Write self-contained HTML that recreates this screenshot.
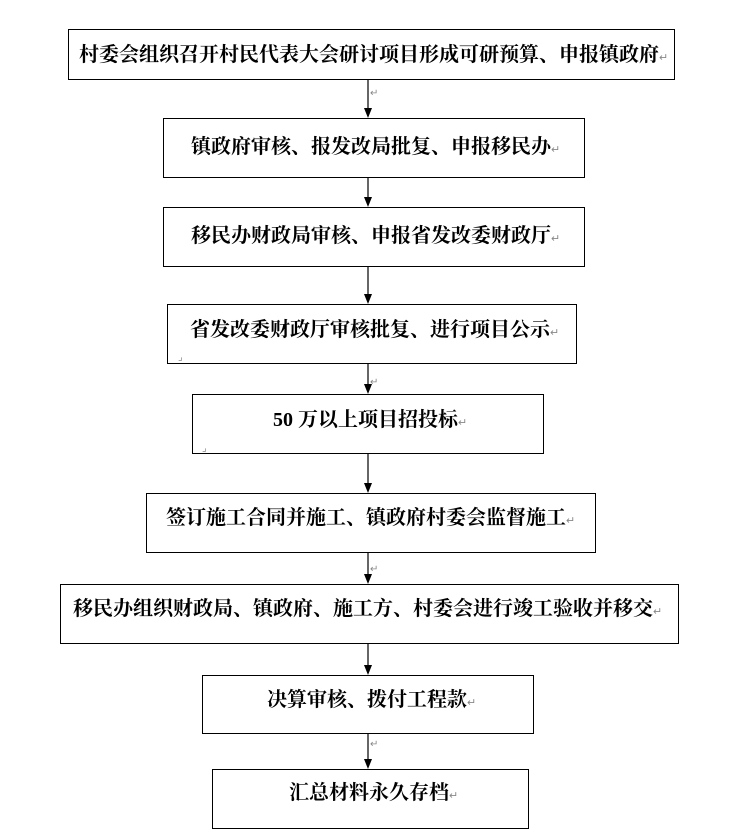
<!DOCTYPE html>
<html><head><meta charset="utf-8"><style>
body{margin:0;width:732px;height:833px;background:#fff;position:relative;overflow:hidden;font-family:"Liberation Serif","Noto Serif CJK SC","Noto Sans CJK SC",serif;}
.b{position:absolute;border:1.3px solid #000;box-sizing:border-box;}
.t{position:absolute;font-size:20px;font-weight:bold;color:#000;white-space:nowrap;line-height:24px;}
.r{font-size:11px;color:#888;font-weight:normal;}
</style></head><body>
<div class="b" style="left:68px;top:29px;width:607px;height:51px"></div>
<div class="b" style="left:163px;top:118px;width:422px;height:60px"></div>
<div class="b" style="left:163px;top:207px;width:422px;height:60px"></div>
<div class="b" style="left:167px;top:304px;width:410px;height:60px"></div>
<div class="b" style="left:192px;top:394px;width:352px;height:60px"></div>
<div class="b" style="left:146px;top:493px;width:450px;height:60px"></div>
<div class="b" style="left:60px;top:584px;width:619px;height:60px"></div>
<div class="b" style="left:202px;top:675px;width:332px;height:59px"></div>
<div class="b" style="left:212px;top:769px;width:317px;height:60px"></div>

<div class="t" style="left:79px;top:43px">村委会组织召开村民代表大会研讨项目形成可研预算、申报镇政府<span class="r">↵</span></div>
<div class="t" style="left:191px;top:135px">镇政府审核、报发改局批复、申报移民办<span class="r">↵</span></div>
<div class="t" style="left:191px;top:224px">移民办财政局审核、申报省发改委财政厅<span class="r">↵</span></div>
<div class="t" style="left:190px;top:318px">省发改委财政厅审核批复、进行项目公示<span class="r">↵</span></div>
<div class="t" style="left:273px;top:408px">50 万以上项目招投标<span class="r">↵</span></div>
<div class="t" style="left:166px;top:506px">签订施工合同并施工、镇政府村委会监督施工<span class="r">↵</span></div>
<div class="t" style="left:73px;top:597px">移民办组织财政局、镇政府、施工方、村委会进行竣工验收并移交<span class="r">↵</span></div>
<div class="t" style="left:267px;top:688px">决算审核、拨付工程款<span class="r">↵</span></div>
<div class="t" style="left:289px;top:781px">汇总材料永久存档<span class="r">↵</span></div>

<svg width="732" height="833" style="position:absolute;left:0;top:0" xmlns="http://www.w3.org/2000/svg">
<g stroke="#000" stroke-width="1.2" fill="#000">
<line x1="368" y1="80" x2="368" y2="110"/><polygon points="364,108 372,108 368,118" stroke="none"/>
<line x1="368" y1="178" x2="368" y2="199"/><polygon points="364,197 372,197 368,207" stroke="none"/>
<line x1="368" y1="267" x2="368" y2="296"/><polygon points="364,294 372,294 368,304" stroke="none"/>
<line x1="368" y1="364" x2="368" y2="386"/><polygon points="364,384 372,384 368,394" stroke="none"/>
<line x1="368" y1="454" x2="368" y2="485"/><polygon points="364,483 372,483 368,493" stroke="none"/>
<line x1="368" y1="553" x2="368" y2="576"/><polygon points="364,574 372,574 368,584" stroke="none"/>
<line x1="368" y1="644" x2="368" y2="667"/><polygon points="364,665 372,665 368,675" stroke="none"/>
<line x1="368" y1="734" x2="368" y2="761"/><polygon points="364,759 372,759 368,769" stroke="none"/>
</g>
<g fill="#888" font-size="10">
<text x="370" y="96">↵</text><text x="370" y="385">↵</text><text x="370" y="572">↵</text><text x="370" y="747">↵</text>
<text x="178" y="360">⌟</text><text x="202" y="451">⌟</text>
</g>
</svg>
</body></html>
